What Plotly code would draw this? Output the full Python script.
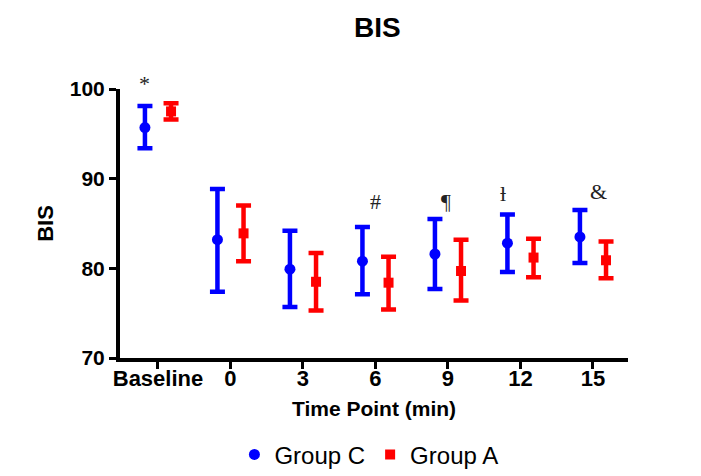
import plotly.graph_objects as go

categories = ["Baseline", "0", "3", "6", "9", "12", "15"]
group_c_mean = [95.7, 83.2, 79.9, 80.8, 81.6, 82.8, 83.5]
group_c_upper = [98.1, 88.85, 84.2, 84.6, 85.5, 86.0, 86.5]
group_c_lower = [93.4, 77.4, 75.7, 77.1, 77.7, 79.6, 80.6]
group_a_mean = [97.5, 83.9, 78.5, 78.4, 79.7, 81.2, 80.9]
group_a_upper = [98.4, 87.0, 81.7, 81.3, 83.2, 83.3, 83.0]
group_a_lower = [96.6, 80.8, 75.3, 75.4, 76.4, 79.0, 78.9]
sig_marks = ["*", "#", "¶", "ƚ", "&"]
sig_x = [-0.18, 3.0, 3.97, 4.76, 6.07]
sig_y = [102.2, 87.5, 87.5, 88.35, 88.55]

offset = 0.18
idx = list(range(len(categories)))
y_min, y_max = 70, 100

fig = go.Figure()
fig.add_trace(go.Scatter(
    x=[i - offset for i in idx], y=group_c_mean, mode="markers", name="Group C",
    marker=dict(symbol="circle", size=11, color="#0000FF"),
    error_y=dict(type="data", symmetric=False,
                 array=[u - m for u, m in zip(group_c_upper, group_c_mean)],
                 arrayminus=[m - l for m, l in zip(group_c_mean, group_c_lower)],
                 color="#0000FF", thickness=4.5, width=7.5),
    cliponaxis=False,
))
fig.add_trace(go.Scatter(
    x=[i + offset for i in idx], y=group_a_mean, mode="markers", name="Group A",
    marker=dict(symbol="square", size=10, color="#FF0000"),
    error_y=dict(type="data", symmetric=False,
                 array=[u - m for u, m in zip(group_a_upper, group_a_mean)],
                 arrayminus=[m - l for m, l in zip(group_a_mean, group_a_lower)],
                 color="#FF0000", thickness=4.5, width=7.5),
    cliponaxis=False,
))

for t, xx, yy in zip(sig_marks, sig_x, sig_y):
    fig.add_annotation(x=xx, y=(yy - y_min) / (y_max - y_min), text=t, showarrow=False,
                       font=dict(family="Liberation Serif, Times New Roman, serif", size=22, color="#222222"),
                       xref="x", yref="paper")

bold_font = "Liberation Sans, Arial, sans-serif"
fig.update_layout(
    width=693, height=468,
    margin=dict(l=112, r=73, t=81, b=118, autoexpand=False),
    paper_bgcolor="white", plot_bgcolor="white",
    title=dict(text="<b>BIS</b>", x=0.533, xanchor="center", y=0.98, yanchor="top",
               font=dict(family=bold_font, size=28, color="black")),
    showlegend=True,
    legend=dict(orientation="h", x=0.49, xanchor="center", y=-0.36, yanchor="middle",
                font=dict(family=bold_font, size=24, color="black"), itemsizing="trace"),
    xaxis=dict(
        range=[-0.524, 6.483], tickmode="array", tickvals=idx, ticktext=[f"<b>{c}</b>" for c in categories],
        showline=True, linecolor="black", linewidth=4, ticks="outside", ticklen=7, tickwidth=3,
        tickcolor="black", showgrid=False, zeroline=False, ticklabelstandoff=-9,
        tickfont=dict(family=bold_font, size=22, color="black"),
        title=dict(text="<b>Time Point (min)</b>", standoff=12,
                   font=dict(family=bold_font, size=21, color="black")),
    ),
    yaxis=dict(
        range=[y_min, y_max], tickmode="array", tickvals=[70, 80, 90, 100],
        ticktext=["<b>70</b>", "<b>80</b>", "<b>90</b>", "<b>100</b>"],
        showline=True, linecolor="black", linewidth=4, ticks="outside", ticklen=7, tickwidth=3,
        tickcolor="black", showgrid=False, zeroline=False,
        tickfont=dict(family=bold_font, size=21, color="black"),
        title=dict(text="<b>BIS</b>", standoff=11,
                   font=dict(family=bold_font, size=22, color="black")),
    ),
)

fig.write_html("out.html")
